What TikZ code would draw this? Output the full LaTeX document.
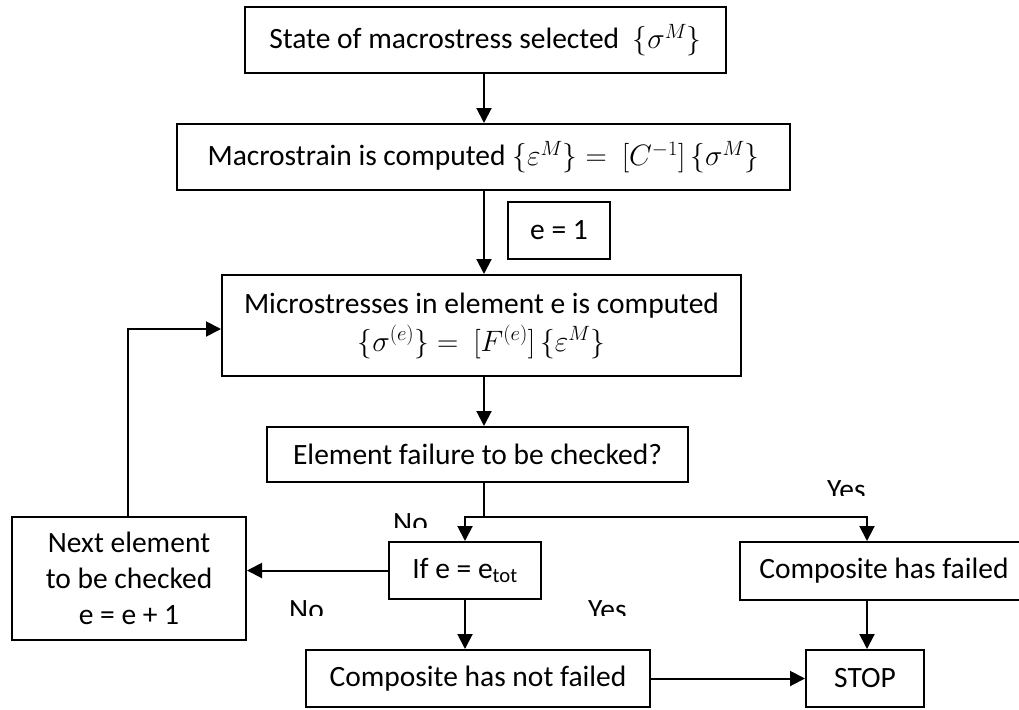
\documentclass[tikz,border=0pt]{standalone}
\usepackage{fix-cm}
\usepackage{fontspec}
\setmainfont{Carlito}
\usetikzlibrary{arrows.meta}
\tikzset{
  box/.style={draw=black, line width=2pt, rectangle, inner sep=0pt, align=center, font=\fontsize{29.5}{36}\selectfont},
  arr/.style={line width=2pt, -{Triangle[length=15pt,width=15pt]}},
  ln/.style={line width=2pt},
  lbl/.style={inner sep=0pt, anchor=base west, font=\fontsize{29.5}{36}\selectfont}
}
\begin{document}
\begin{tikzpicture}[x=1pt,y=-1pt]
\useasboundingbox (0,0) rectangle (1019,709);
\node[box, minimum width=481pt, minimum height=66pt] (b1) at (485.5,40) {State of macrostress selected \ \(\{\sigma^M\}\)};
\node[box, minimum width=613pt, minimum height=66pt] (b2) at (483.5,157) {Macrostrain is computed \(\{\varepsilon^M\} = \ [C^{-1}]\,\{\sigma^M\}\)};
\node[box, minimum width=102pt, minimum height=57pt] (e1) at (559,230.5) {e = 1};
\node[box, minimum width=519pt, minimum height=101pt] (b3) at (481.5,325.5) {Microstresses in element e is computed\\[2pt] \(\Big\{\sigma^{(e)}\Big\} = \ \Big[F^{(e)}\Big]\,\{\varepsilon^M\}\)};
\node[box, minimum width=421pt, minimum height=55pt] (b4) at (477.5,454.5) {Element failure to be checked?};
\node[box, minimum width=152pt, minimum height=57pt] (ifb) at (465,570.5) {If e = e\textsubscript{tot}};
\node[box, minimum width=234pt, minimum height=123pt] (next) at (129,578.5) {Next element\\to be checked\\e = e + 1};
\node[box, minimum width=280pt, minimum height=58pt] (fail) at (880,571) {\hspace*{8pt}Composite has failed};
\node[box, minimum width=344pt, minimum height=57pt] (notf) at (478,678.5) {Composite has not failed};
\node[box, minimum width=118pt, minimum height=57pt] (stop) at (865,678.5) {STOP};

\coordinate (ax) at (484,0);
\coordinate (br) at (484,517);
\coordinate (fx) at (867,0);
\coordinate (lp) at (128,329);

\draw[arr] (b1.south -| ax) -- (b2.north -| ax);
\draw[arr] (b2.south -| ax) -- (b3.north -| ax);
\draw[arr] (b3.south -| ax) -- (b4.north -| ax);
\draw[ln] (b4.south -| ax) -- (br);
\draw[arr] (br) -| (ifb.north);
\draw[arr] (br) -| (fail.north -| fx);
\draw[arr] (fail.south -| fx) -- (stop.north -| fx);
\draw[arr] (ifb.south) -- (ifb.south |- notf.north);
\draw[arr] (notf.east) -- (stop.west);
\draw[arr] (ifb.west) -- (next.east |- ifb.west);
\draw[arr] (next.north -| lp) -- (lp) -- (b3.west |- lp);

\begin{scope}
\clip (380,500) rectangle (440,527);
\node[lbl] (no1) at (393,532) {No};
\end{scope}
\begin{scope}
\clip (280,590) rectangle (340,615);
\node[lbl] (no2) at (289,619) {No};
\end{scope}
\begin{scope}
\clip (815,470) rectangle (880,495);
\node[lbl] (yes1) at (827,499) {Yes};
\end{scope}
\begin{scope}
\clip (575,590) rectangle (640,615);
\node[lbl] (yes2) at (588,619) {Yes};
\end{scope}
\end{tikzpicture}
\end{document}
